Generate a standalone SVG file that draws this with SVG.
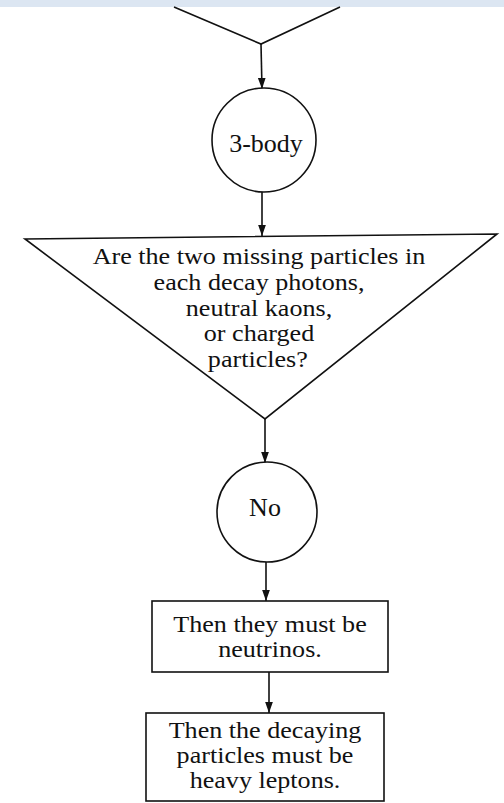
<svg xmlns="http://www.w3.org/2000/svg" width="504" height="803" viewBox="0 0 504 803">
<defs>
<style>
.s{fill:none;stroke:#111;stroke-width:1.6}
.n{fill:#fff;stroke:#111;stroke-width:1.6}
.t{font-family:"Liberation Serif","Times New Roman",serif;font-size:26px;fill:#111;text-anchor:middle}
.m{font-family:"Liberation Serif","Times New Roman",serif;font-size:22.5px;fill:#111;text-anchor:middle}
</style>
<marker id="ah" viewBox="0 0 10 10" refX="10" refY="5" markerWidth="11" markerHeight="11" markerUnits="userSpaceOnUse" orient="auto">
<path d="M0,1.5 L10,5 L0,8.5 Z" fill="#111"/>
</marker>
</defs>
<rect x="0" y="0" width="504" height="804" fill="#fff"/>
<rect x="0" y="0" width="504" height="7" fill="#dce6f2"/>
<g id="connectors">
<polyline class="s" points="174,7 261,44 340,7"/>
<line class="s" x1="261" y1="44" x2="262" y2="89" marker-end="url(#ah)"/>
<line class="s" x1="262" y1="192" x2="262" y2="236" marker-end="url(#ah)"/>
<line class="s" x1="265" y1="419" x2="265" y2="463" marker-end="url(#ah)"/>
<line class="s" x1="266" y1="562" x2="266" y2="601" marker-end="url(#ah)"/>
<line class="s" x1="269" y1="672" x2="269" y2="713" marker-end="url(#ah)"/>
</g>
<g id="node-3body">
<circle class="n" cx="264" cy="140" r="52"/>
<text class="t" x="266" y="152">3-body</text>
</g>
<g id="node-question">
<polygon class="n" points="25,239 497,234 265,419"/>
<g transform="translate(259,0) scale(1.16,1)">
<text class="m" x="0" y="264">Are the two missing particles in</text>
<text class="m" x="0" y="290">each decay photons,</text>
<text class="m" x="0" y="316">neutral kaons,</text>
<text class="m" x="0" y="341.5">or charged</text>
<text class="m" x="-1" y="367">particles?</text>
</g>
</g>
<g id="node-no">
<circle class="n" cx="267" cy="512" r="50"/>
<text class="t" x="265" y="516">No</text>
</g>
<g id="node-neutrinos">
<rect class="n" x="152" y="601" width="236" height="71"/>
<g transform="translate(270,0) scale(1.16,1)">
<text class="m" x="0" y="632">Then they must be</text>
<text class="m" x="0" y="657">neutrinos.</text>
</g>
</g>
<g id="node-leptons">
<rect class="n" x="146" y="713" width="238" height="88"/>
<g transform="translate(265,0) scale(1.16,1)">
<text class="m" x="0" y="738">Then the decaying</text>
<text class="m" x="0" y="763">particles must be</text>
<text class="m" x="0" y="788">heavy leptons.</text>
</g>
</g>
</svg>
